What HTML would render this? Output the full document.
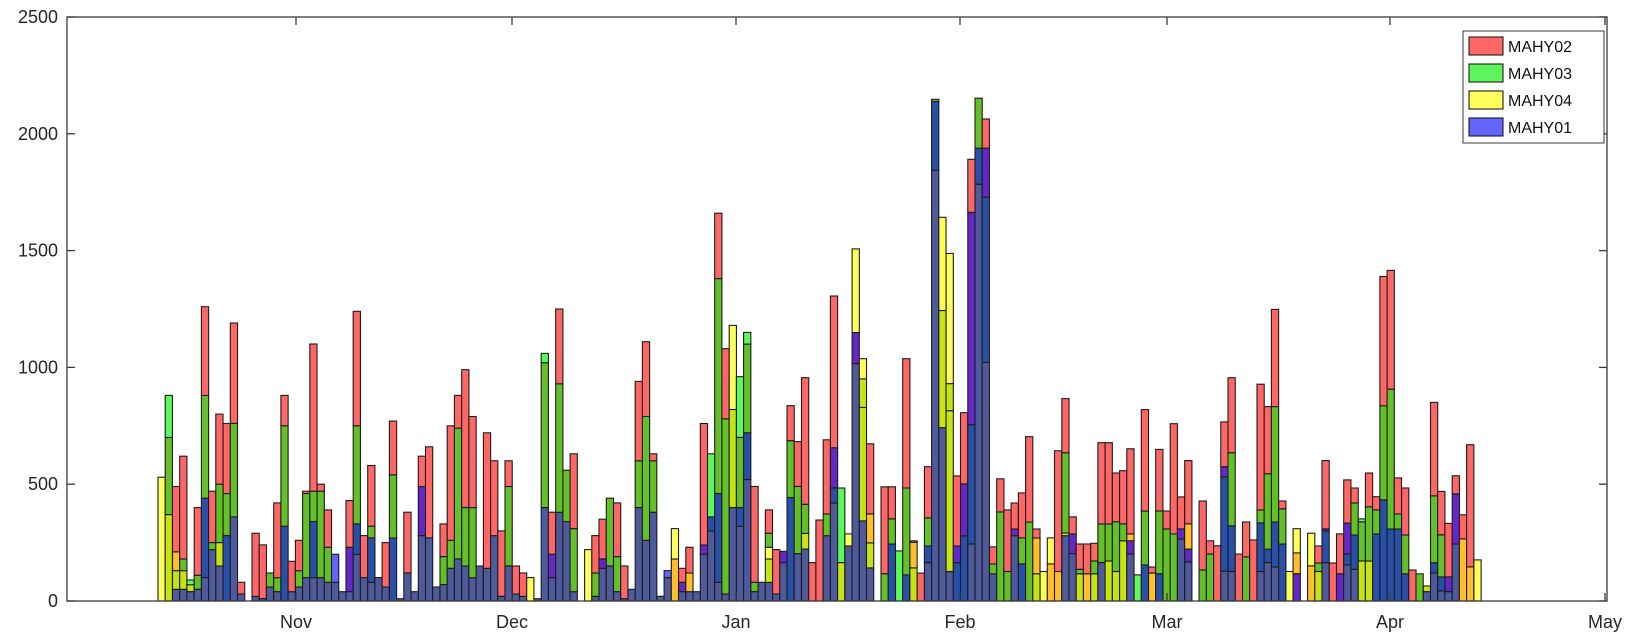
<!DOCTYPE html>
<html><head><meta charset="utf-8"><style>
html,body{margin:0;padding:0;background:#fff;}
svg{display:block;font-family:"Liberation Sans",sans-serif;}
</style></head><body>
<svg id="s" width="1639" height="642" xmlns="http://www.w3.org/2000/svg"></svg>
<script>
const S=document.getElementById('s');
const L=67,R=1607,T=17,B=601;
const K=(B-T)/2500;
const C={B:'#4e5a9c',b:'#2850a8',p:'#6428c8',g:'#64c028',l:'#5cf85c',y:'#ffff5c',k:'#c6e414',o:'#ffbe2a',r:'#ff6666',n:'#6464ff'};
const D=["y530","k370 g330 l180","B50 k80 o80 r280","B50 k80 g50 r440","B40 k30 l20","B50 g60 r290","B100 b340 g440 r380","B220 g30 r220","B150 k100 g250 r300","b280 g180 r300","B360 g400 r430","B30 r50","","B20 r270","B10 r230","B60 g60","B40 g60 r320","b320 g430 r130","B40 r130","B60 g70 r130","B100 g360 r10","B100 b240 g130 r630","B100 g370 r30","B80 g150 r160","B80 n120","B40","B40 p190 r200","B200 b130 g420 r490","B100 r180","B80 b190 g50 r260","B100","B60 r190","b270 g270 r230","B10","B120 r260","B40","B280 p210 r130","B270 r390","B60","B70 g120 r140","B140 g120 r490","B180 g560 r140","B150 g250 r590","B100 g300 r390","B150","B140 r580","B280 r320","B20 r280","B150 g340 r110","B30 r120","B20 r100","y100","B10","B400 g620 l40","B100 p100 r180","B380 g550 r320","B340 g220","B40 g270 r320","","y220","B20 g100 r160","B140 p40 r170","B150 g290","B40 g150 r230","B10 r140","B50","B400 g200 r340","B260 g530 r320","B380 g220 r30","B20","B100 n30","o180 y130","B40 p40 r60","B40 o80 r110","B40","B200 p40 r520","B300 b60 l270","B80 b380 g920 r280","B30 g750 r300","B400 k420 y360","B320 b80 g300 l260","B520 b200 g380 l50","B40 g40 r410","B80","B80 k100 y50 g60 r100","B30 r190"];
const Z=["B60 p110","b350 g604 r760","B100 g400 r600","B120 k190 g320 r885","r60","r250","B180 g277 r608","B326 b393 p573 r1250","k60 l393","B134 y188","B948 p1087 y1460","B246 k753 k880 y970","B36 k148 o277 r590","","g10 r398","b143 g255 r398","l112","b5 g393 r970","k36 o150 r157","r13","B60 b134 g260 r488","B1811 b2118 g2128","B662 k1185 y1601","B20 k738 k859 y1440","b60 p134 r447","b179 p411 r729","B143 b675 p1623 r1860","B1749 b1910 g2133","B953 b1691 p1910 r2040","B10 g54 r130","g286 r434","g20 r295","B180 p210 r326","b54 g170 r371","g241 r622","k10 o170 r210","y20","o54 y170","o20 r559","B180 k192 g550 r792","B100 p188 r264","k10 g30 r143","o10 r143","k10 g67 r146","B60 g232 r595",
"k67 g232 r595","k20 g242 r460","k157 g233 r470","B98 p157 o188 r568","l5","b49 g290 r743","o13 r40","b10 g290 r565","g210 r290","g188 r680","B165 p210 r353","B63 p120 o233 r515","","g27 r335","g98 r157","r135","B22 b443 p488 r688","B20 b224 g550 r885","r98","g85 r241","r161","B20 b237 g295 r856","B60 b120 g456 r756","B40 b241 g756 r1190","b143 g300 r335","y20","p10 o103 y211","","o45 y191","k20 g58 r134","B60 b201 p210 r515","r58","p10 r188","B50 b98 p236 r429","B30 b183 g326 r393","k67 g242 l255","k67 g309 r460","b188 g295 r354","b340 g760 r1337","b210 g834 r1364","b210 g277 r438","b10 g183 r393","r27","g10"];
const E=["B40 k64","B120 b164 g450 r850","B43 b103 g283 r469","B40 p103 r332","B244 p459 r536","o266 r369","o146 r669","y176"];
function parse(s){return s.trim()?s.trim().split(/\s+/).map(t=>[t[0],+t.slice(1)]):[];}
let bars=[];
D.forEach(s=>{let c=0;bars.push(parse(s).map(([k,v])=>{let a=c;c+=v;return [k,a,c];}));});
Z.forEach(s=>{let c=0;bars.push(parse(s).map(([k,v])=>{let a=c;let t=0.959*v+107;c=t;return [k,a,t];}));});
E.forEach(s=>{let c=0;bars.push(parse(s).map(([k,v])=>{let a=c;c=v;return [k,a,v];}));});
let h='';
const P=7.23,X0=158;
bars.forEach((segs,i)=>{const x=X0+P*i;segs.forEach(([k,a,t])=>{if(t<=a)return;const y1=B-t*K,y0=B-a*K;
h+=`<rect x="${x.toFixed(1)}" y="${y1.toFixed(1)}" width="${P.toFixed(2)}" height="${(y0-y1).toFixed(1)}" fill="${C[k]}" stroke="#1c1c1c" stroke-width="1.1"/>`;});});
h+=`<rect x="${L}" y="${T}" width="${R-L}" height="${B-T}" fill="none" stroke="#3a3a3a" stroke-width="1.3"/>`;
for(let v=0;v<=2500;v+=500){const y=B-v*K;
h+=`<line x1="${L}" y1="${y}" x2="${L+8}" y2="${y}" stroke="#3a3a3a" stroke-width="1.3"/><line x1="${R}" y1="${y}" x2="${R-8}" y2="${y}" stroke="#3a3a3a" stroke-width="1.3"/>`;
h+=`<text x="${L-9}" y="${y+6}" font-size="18" text-anchor="end" fill="#262626">${v}</text>`;}
[['Nov',296],['Dec',512],['Jan',736],['Feb',960],['Mar',1167],['Apr',1390],['May',1605]].forEach(([t,x])=>{
h+=`<line x1="${x}" y1="${B}" x2="${x}" y2="${B-8}" stroke="#3a3a3a" stroke-width="1.3"/><line x1="${x}" y1="${T}" x2="${x}" y2="${T+8}" stroke="#3a3a3a" stroke-width="1.3"/>`;
h+=`<text x="${x}" y="${B+27}" font-size="18" text-anchor="middle" fill="#262626">${t}</text>`;});
h+=`<rect x="1463" y="31" width="141" height="112" fill="#fff" stroke="#3a3a3a" stroke-width="1"/>`;
[['MAHY02','#ff6666'],['MAHY03','#5cf55c'],['MAHY04','#ffff5c'],['MAHY01','#6464ff']].forEach(([t,c],j)=>{const y=37+j*27;
h+=`<rect x="1469" y="${y}" width="34" height="18" fill="${c}" stroke="#1c1c1c" stroke-width="1.1"/><text x="1508" y="${y+15}" font-size="16" fill="#111">${t}</text>`;});
S.innerHTML=h;
</script>
</body></html>
